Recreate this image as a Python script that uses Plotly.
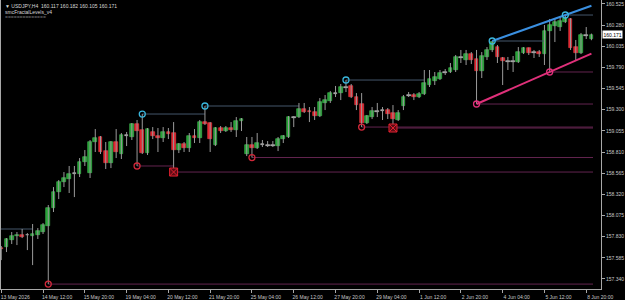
import plotly.graph_objects as go

# ---------------- data (USDJPY H4) ----------------
bar_index = list(range(-1, 113))
opens = [157.697,
 157.709, 157.790, 157.842, 157.848, 157.846, 157.836, 157.848, 157.883, 157.952, 158.161,
 158.346, 158.462, 158.497, 158.563, 158.555, 158.694, 158.566, 158.926, 158.984, 158.821,
 158.682, 158.926, 158.787, 159.003, 158.984, 159.134, 159.065, 158.798, 159.042, 158.995,
 158.972, 159.042, 159.030, 158.833, 158.902, 158.856, 158.995, 158.972, 159.157, 159.146,
 158.891, 159.088, 159.053, 159.088, 159.065, 159.169, 158.787, 158.891, 158.856, 158.899,
 158.891, 158.887, 158.879, 158.960, 158.984, 159.212, 159.215, 159.308, 159.285, 159.273,
 159.227, 159.378, 159.401, 159.490, 159.493, 159.559, 159.575, 159.447, 159.366, 159.146,
 159.215, 159.285, 159.293, 159.296, 159.262, 159.181, 159.343, 159.467, 159.470, 159.447,
 159.482, 159.586, 159.632, 159.656, 159.733, 159.737, 159.760, 159.911, 159.876, 159.945,
 159.887, 159.748, 159.911, 159.992, 160.026, 159.899, 159.864, 159.861, 159.853, 159.957,
 160.015, 159.968, 159.968, 159.945, 160.212, 160.270, 160.258, 160.316, 160.351, 160.026,
 159.957, 160.165, 160.117]
highs = [157.721,
 157.813, 157.883, 157.883, 157.918, 157.871, 157.976, 157.929, 157.987, 158.196, 158.404,
 158.485, 158.578, 158.648, 158.648, 158.740, 158.833, 158.949, 159.076, 158.995, 158.926,
 158.937, 159.076, 159.030, 159.042, 159.146, 159.181, 159.250, 159.088, 159.099, 159.088,
 159.099, 159.088, 159.157, 158.914, 158.926, 159.030, 159.076, 159.181, 159.343, 159.157,
 159.099, 159.111, 159.111, 159.157, 159.215, 159.204, 158.984, 158.984, 159.030, 158.949,
 158.937, 158.937, 158.984, 159.007, 159.227, 159.227, 159.378, 159.378, 159.331, 159.331,
 159.435, 159.470, 159.517, 159.575, 159.598, 159.644, 159.598, 159.493, 159.493, 159.239,
 159.331, 159.378, 159.331, 159.320, 159.354, 159.296, 159.470, 159.505, 159.493, 159.505,
 159.760, 159.760, 159.737, 159.760, 159.771, 159.841, 159.934, 159.992, 159.992, 159.968,
 159.992, 159.968, 160.026, 160.096, 160.050, 159.911, 159.911, 159.922, 160.026, 160.026,
 160.021, 159.992, 159.992, 160.281, 160.351, 160.351, 160.374, 160.397, 160.362, 160.108,
 160.189, 160.258, 160.182]
lows = [157.558,
 157.651, 157.744, 157.732, 157.813, 157.674, 157.500, 157.802, 157.860, 157.280, 158.115,
 158.265, 158.404, 158.335, 158.288, 158.520, 158.648, 158.509, 158.810, 158.787, 158.613,
 158.624, 158.740, 158.729, 158.879, 158.949, 158.648, 158.787, 158.775, 158.960, 158.810,
 158.926, 158.960, 158.590, 158.798, 158.810, 158.810, 158.914, 158.914, 159.123, 158.810,
 158.879, 159.030, 159.042, 159.042, 158.984, 159.053, 158.763, 158.746, 158.845, 158.868,
 158.868, 158.868, 158.821, 158.914, 158.972, 159.099, 159.204, 159.262, 159.157, 159.181,
 159.215, 159.296, 159.378, 159.447, 159.412, 159.505, 159.435, 159.296, 159.099, 159.134,
 159.192, 159.215, 159.181, 159.192, 159.134, 159.169, 159.296, 159.447, 159.412, 159.435,
 159.470, 159.563, 159.586, 159.644, 159.702, 159.725, 159.737, 159.841, 159.818, 159.829,
 159.366, 159.667, 159.876, 159.968, 159.841, 159.586, 159.760, 159.737, 159.841, 159.945,
 159.934, 159.899, 159.911, 159.818, 159.737, 160.084, 160.212, 160.304, 159.992, 159.876,
 159.945, 160.119, 160.105]
closes = [157.686,
 157.802, 157.836, 157.848, 157.825, 157.848, 157.860, 157.894, 157.964, 158.161, 158.346,
 158.462, 158.509, 158.555, 158.566, 158.694, 158.752, 158.926, 158.972, 158.810, 158.682,
 158.926, 158.810, 159.007, 159.007, 159.134, 159.053, 158.798, 159.076, 158.995, 158.972,
 159.042, 159.018, 158.833, 158.902, 158.856, 158.995, 158.972, 159.157, 159.134, 158.960,
 159.088, 159.053, 159.088, 159.065, 159.169, 159.192, 158.891, 158.856, 158.914, 158.902,
 158.887, 158.891, 158.960, 158.995, 159.215, 159.215, 159.308, 159.273, 159.273, 159.227,
 159.389, 159.412, 159.493, 159.493, 159.563, 159.563, 159.447, 159.354, 159.146, 159.227,
 159.285, 159.281, 159.296, 159.250, 159.192, 159.262, 159.447, 159.470, 159.447, 159.482,
 159.609, 159.656, 159.679, 159.725, 159.737, 159.783, 159.911, 159.907, 159.945, 159.876,
 159.748, 159.922, 159.992, 160.084, 159.911, 159.864, 159.861, 159.864, 159.968, 160.015,
 159.957, 159.965, 159.945, 160.212, 160.281, 160.316, 160.328, 160.362, 160.015, 159.957,
 160.165, 160.162, 160.171]

# fractal highs / lows (bar index) and their level end bars
high_fractals = [26, 38, 65, 93, 107]
high_level_end = [38, 56, 80, 103, 112.3]
low_fractals = [8, 25, 47, 68]
low_level_end = [112.3, 32, 112.3, 112.3]
channel_low_fractals = [90, 104]
old_high_level = 157.918          # level from a fractal left of the window
old_high_level_span = [-1.05, 5]
break_bars = [32, 74]              # red square markers
break_levels = [158.578, 159.088]

y_ticks = [160.525, 160.280, 160.035, 159.790, 159.545, 159.300, 159.055, 158.810,
           158.565, 158.320, 158.075, 157.830, 157.585, 157.340]
x_tick_bars = [-1, 7, 15, 23, 31, 39, 47, 55, 63, 71, 79, 87, 95, 103, 111]
x_tick_text = ["13 May 2026", "14 May 12:00", "15 May 20:00", "19 May 04:00",
               "20 May 12:00", "21 May 20:00", "25 May 04:00", "26 May 12:00",
               "27 May 20:00", "29 May 04:00", "1 Jun 12:00", "2 Jun 20:00",
               "4 Jun 04:00", "5 Jun 12:00", "8 Jun 20:00"]
last_price = 160.171

# ---------------- styles ----------------
BG = "#000000"
GREEN = "#22a034"
GREEN_EDGE = "#46c257"
RED = "#e2222c"
RED_EDGE = "#f04048"
DOJI = "#c0c0c0"
WICK = "#9a9a9a"
HI_LEVEL = "#44566a"
LO_LEVEL = "#63244f"
CYAN = "#3ab6dc"
LOWRED = "#d2283a"
PINK = "#e0307a"
BLUE = "#3a8fe0"
FONT = "Liberation Sans"

fig = go.Figure()

# horizontal levels
lx, ly = [], []
for b, e in zip(high_fractals, high_level_end):
    lx += [b, e, None]; ly += [highs[b + 1], highs[b + 1], None]
lx += [old_high_level_span[0], old_high_level_span[1], None]
ly += [old_high_level, old_high_level, None]
fig.add_trace(go.Scatter(x=lx, y=ly, mode="lines", line=dict(color=HI_LEVEL, width=1),
                         hoverinfo="skip"))

lx, ly = [], []
for b, e in zip(low_fractals, low_level_end):
    lx += [b, e, None]; ly += [lows[b + 1], lows[b + 1], None]
for b in channel_low_fractals:
    lx += [b, 112.3, None]; ly += [lows[b + 1], lows[b + 1], None]
for b, lv in zip(break_bars, break_levels):
    lx += [b, 112.3, None]; ly += [lv, lv, None]
fig.add_trace(go.Scatter(x=lx, y=ly, mode="lines", line=dict(color=LO_LEVEL, width=1),
                         hoverinfo="skip"))

# wicks
wx, wy = [], []
for i, h, l in zip(bar_index, highs, lows):
    wx += [i, i, None]; wy += [l, h, None]
fig.add_trace(go.Scatter(x=wx, y=wy, mode="lines", line=dict(color=WICK, width=1),
                         hoverinfo="skip"))

# bodies
base, height, colors, edges = [], [], [], []
for o, c in zip(opens, closes):
    d = abs(c - o)
    if d < 0.006:
        colors.append(DOJI); edges.append(DOJI)
        base.append(min(o, c) - 0.003)
        height.append(0.008)
    else:
        up = c > o
        colors.append(GREEN if up else RED)
        edges.append(GREEN_EDGE if up else RED_EDGE)
        base.append(min(o, c))
        height.append(d)
fig.add_trace(go.Bar(x=bar_index, y=height, base=base, width=0.72,
                     marker=dict(color=colors, line=dict(width=0.6, color=edges)),
                     hoverinfo="skip"))

# channel lines through fractals, extended to the last bar
last_bar = bar_index[-1]
h1, h2 = high_fractals[-2], high_fractals[-1]
s = (highs[h2 + 1] - highs[h1 + 1]) / (h2 - h1)
fig.add_trace(go.Scatter(x=[h1, last_bar], y=[highs[h1 + 1], highs[h1 + 1] + s * (last_bar - h1)],
                         mode="lines", line=dict(color=BLUE, width=2), hoverinfo="skip"))
l1, l2 = channel_low_fractals
s = (lows[l2 + 1] - lows[l1 + 1]) / (l2 - l1)
fig.add_trace(go.Scatter(x=[l1, last_bar], y=[lows[l1 + 1], lows[l1 + 1] + s * (last_bar - l1)],
                         mode="lines", line=dict(color=PINK, width=2), hoverinfo="skip"))

# markers
fig.add_trace(go.Scatter(x=high_fractals, y=[highs[b + 1] for b in high_fractals], mode="markers",
                         marker=dict(symbol="circle-open", size=6, color=CYAN, line=dict(width=1.3)),
                         hoverinfo="skip"))
fig.add_trace(go.Scatter(x=low_fractals, y=[lows[b + 1] for b in low_fractals], mode="markers",
                         marker=dict(symbol="circle-open", size=6, color=LOWRED, line=dict(width=1.3)),
                         hoverinfo="skip"))
fig.add_trace(go.Scatter(x=channel_low_fractals, y=[lows[b + 1] for b in channel_low_fractals],
                         mode="markers",
                         marker=dict(symbol="circle-open", size=6, color=PINK, line=dict(width=1.3)),
                         hoverinfo="skip"))
fig.add_trace(go.Scatter(x=break_bars, y=break_levels, mode="markers",
                         marker=dict(symbol="square-x", size=8, color="#5a0c14",
                                     line=dict(width=1, color="#e02030")),
                         hoverinfo="skip"))

fig.update_layout(
    width=625, height=300,
    margin=dict(l=1, r=24, t=0, b=11),
    paper_bgcolor=BG, plot_bgcolor=BG,
    showlegend=False, bargap=0, barmode="overlay",
    font=dict(family=FONT, size=5, color="#c8c8c8"),
    xaxis=dict(range=[-1.05, 113.83], showgrid=False, zeroline=False,
               showline=True, linecolor="#a8a8a8", linewidth=1,
               tickmode="array", tickvals=x_tick_bars, ticktext=x_tick_text,
               ticks="outside", ticklen=3, tickcolor="#a8a8a8", tickwidth=1,
               ticklabelshift=14, tickfont=dict(size=5, color="#c8c8c8", family=FONT)),
    yaxis=dict(range=[157.223, 160.571], side="right", showgrid=False, zeroline=False,
               showline=True, mirror=True, linecolor="#a8a8a8", linewidth=1,
               tickmode="array", tickvals=y_ticks, ticktext=[f"{v:.3f}" for v in y_ticks],
               ticks="outside", ticklen=3, tickcolor="#a8a8a8", tickwidth=1,
               tickfont=dict(size=5, color="#c8c8c8", family=FONT)),
)

# current price label
fig.add_annotation(x=1.0, xref="paper", y=last_price, yref="y", xanchor="left", xshift=1,
                   text=f"{last_price:.3f}", showarrow=False, bgcolor="#ffffff",
                   font=dict(size=5, color="#000000", family=FONT), borderpad=0.5)

# header texts
fig.add_annotation(x=0.004, xref="paper", y=1.0, yref="paper", xanchor="left", yanchor="top",
                   yshift=-1, showarrow=False,
                   text="▼ USDJPY,H4  160.117 160.182 160.105 160.171",
                   font=dict(size=5, color="#d8d8d8", family=FONT))
fig.add_annotation(x=0.004, xref="paper", y=1.0, yref="paper", xanchor="left", yanchor="top",
                   yshift=-7, showarrow=False, text="smcFractalLevels_v4",
                   font=dict(size=5, color="#d8d8d8", family=FONT))
fig.add_annotation(x=0.004, xref="paper", y=1.0, yref="paper", xanchor="left", yanchor="top",
                   yshift=-12, showarrow=False, text="==============",
                   font=dict(size=5, color="#777777", family=FONT))

fig.write_html("out.html")
